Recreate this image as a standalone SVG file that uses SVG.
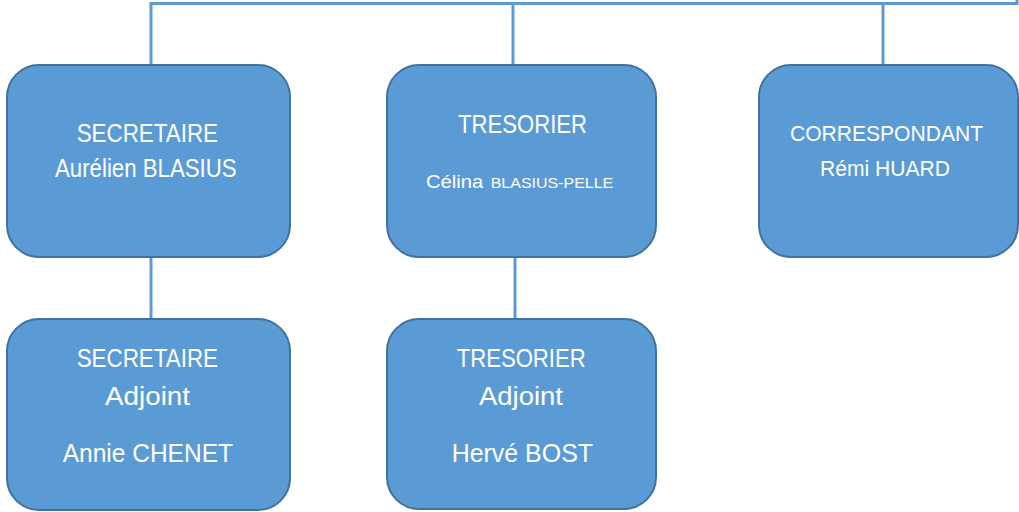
<svg xmlns="http://www.w3.org/2000/svg" width="1019" height="512" viewBox="0 0 1019 512">
<style>
.box{fill:#5B9BD5;stroke:#41719C;stroke-width:2}
.ln{fill:none;stroke:#5B9BD5;stroke-width:3}
text{font-family:"Liberation Sans",Arial,sans-serif;fill:#ffffff}
.b{font-size:25px}
.m{font-size:22px}
.s{font-size:19px}
.xs{font-size:14.5px}
</style>
<rect width="1019" height="512" fill="#ffffff"/>
<g id="connectors">
<path class="ln" d="M151,65 V3.5 H1017 V0"/>
<path class="ln" d="M513,3.5 V65"/>
<path class="ln" d="M883,3.5 V65"/>
<path class="ln" d="M151,257 V319"/>
<path class="ln" d="M515,257 V319"/>
</g>
<g id="secretaire">
<rect class="box" x="7" y="65" width="283" height="192" rx="32" ry="32"/>
<text class="b" x="76.7" y="141.7" textLength="141.3" lengthAdjust="spacingAndGlyphs">SECRETAIRE</text>
<text class="b" x="55" y="176.7" textLength="181.7" lengthAdjust="spacingAndGlyphs">Aurélien BLASIUS</text>
</g>
<g id="tresorier">
<rect class="box" x="387" y="65" width="269" height="192" rx="32" ry="32"/>
<text class="b" x="458" y="133.3" textLength="129" lengthAdjust="spacingAndGlyphs">TRESORIER</text>
<text class="s" x="426" y="187.7" textLength="57.3" lengthAdjust="spacingAndGlyphs">Célina</text>
<text class="xs" x="490.7" y="187.7" textLength="122.6" lengthAdjust="spacingAndGlyphs">BLASIUS-PELLE</text>
</g>
<g id="correspondant">
<rect class="box" x="759" y="65" width="259" height="192" rx="32" ry="32"/>
<text class="m" x="790" y="140.7" textLength="193" lengthAdjust="spacingAndGlyphs">CORRESPONDANT</text>
<text class="m" x="820" y="175.7" textLength="130" lengthAdjust="spacingAndGlyphs">Rémi HUARD</text>
</g>
<g id="secretaire-adjoint">
<rect class="box" x="7" y="319" width="283" height="191" rx="32" ry="32"/>
<text class="b" x="76.7" y="367.3" textLength="141.3" lengthAdjust="spacingAndGlyphs">SECRETAIRE</text>
<text class="b" x="105" y="405" textLength="85" lengthAdjust="spacingAndGlyphs">Adjoint</text>
<text class="b" x="62.7" y="461.7" textLength="170.3" lengthAdjust="spacingAndGlyphs">Annie CHENET</text>
</g>
<g id="tresorier-adjoint">
<rect class="box" x="387" y="319" width="269" height="190" rx="32" ry="32"/>
<text class="b" x="456.7" y="367.3" textLength="129" lengthAdjust="spacingAndGlyphs">TRESORIER</text>
<text class="b" x="479" y="405" textLength="84" lengthAdjust="spacingAndGlyphs">Adjoint</text>
<text class="b" x="451.7" y="461.7" textLength="141.3" lengthAdjust="spacingAndGlyphs">Hervé BOST</text>
</g>
</svg>
